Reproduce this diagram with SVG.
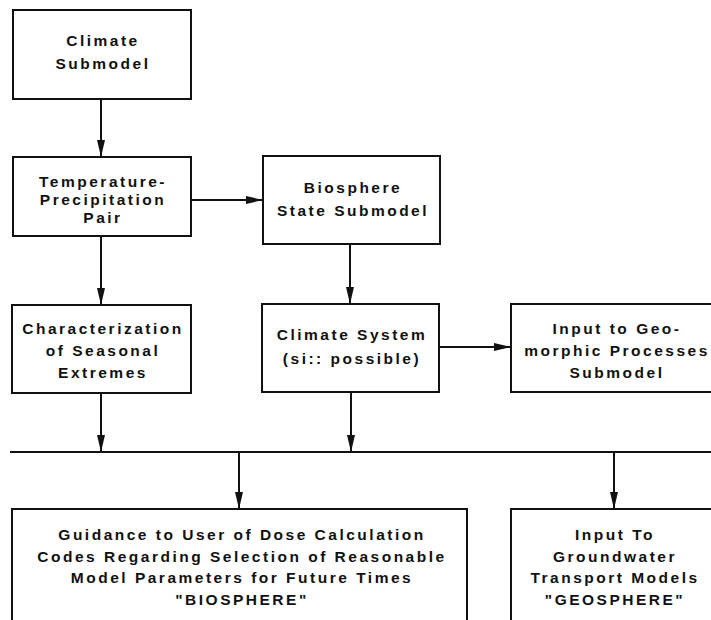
<svg xmlns="http://www.w3.org/2000/svg" width="711" height="620" viewBox="0 0 711 620">
  <style>
    .box { fill: #ffffff; stroke: #111111; stroke-width: 2; }
    .lbl { font-family: "Liberation Sans", Arial, Helvetica, sans-serif; font-weight: bold; font-size: 15.5px; letter-spacing: 2.5px; fill: #111111; text-anchor: middle; }
    .wire { fill: none; stroke: #111111; stroke-width: 2; }
    .arr { marker-end: url(#head); }
  </style>
  <defs>
    <marker id="head" markerUnits="userSpaceOnUse" markerWidth="18" markerHeight="8" refX="17" refY="4" orient="auto">
      <path d="M0,0 L17,4 L0,8 Z" fill="#111111"/>
    </marker>
  </defs>
  <rect width="711" height="620" fill="#ffffff"/>

  <!-- connectors -->
  <g id="connectors">
    <line class="wire arr" x1="101" y1="99" x2="101" y2="157"/>
    <line class="wire arr" x1="191" y1="200" x2="263" y2="200"/>
    <line class="wire arr" x1="101" y1="236" x2="101" y2="305"/>
    <line class="wire arr" x1="350" y1="244" x2="350" y2="304"/>
    <line class="wire arr" x1="439" y1="347" x2="511" y2="347"/>
    <line class="wire arr" x1="101" y1="393" x2="101" y2="452"/>
    <line class="wire arr" x1="351" y1="392" x2="351" y2="452"/>
    <line class="wire" x1="10" y1="452" x2="711" y2="452"/>
    <line class="wire arr" x1="239" y1="452" x2="239" y2="509"/>
    <line class="wire arr" x1="614" y1="452" x2="614" y2="509"/>
  </g>

  <g id="climate-submodel">
    <rect class="box" x="13" y="10" width="178" height="89"/>
    <text class="lbl" x="103" y="46">Climate</text>
    <text class="lbl" x="103" y="69">Submodel</text>
  </g>

  <g id="temperature-precipitation">
    <rect class="box" x="13" y="157" width="178" height="79"/>
    <text class="lbl" x="103" y="187">Temperature-</text>
    <text class="lbl" x="103" y="205">Precipitation</text>
    <text class="lbl" x="103" y="223">Pair</text>
  </g>

  <g id="biosphere-state">
    <rect class="box" x="263" y="156" width="177" height="88"/>
    <text class="lbl" x="353" y="193">Biosphere</text>
    <text class="lbl" x="353" y="216">State Submodel</text>
  </g>

  <g id="seasonal-extremes">
    <rect class="box" x="12" y="305" width="179" height="88"/>
    <text class="lbl" x="103" y="334">Characterization</text>
    <text class="lbl" x="103" y="356">of Seasonal</text>
    <text class="lbl" x="103" y="378">Extremes</text>
  </g>

  <g id="climate-system">
    <rect class="box" x="262" y="304" width="177" height="88"/>
    <text class="lbl" x="352" y="340">Climate System</text>
    <text class="lbl" x="352" y="364">(si:: possible)</text>
  </g>

  <g id="geomorphic-input">
    <rect class="box" x="511" y="304" width="220" height="88"/>
    <text class="lbl" x="617" y="334">Input to Geo-</text>
    <text class="lbl" x="617" y="356">morphic Processes</text>
    <text class="lbl" x="617" y="378">Submodel</text>
  </g>

  <g id="biosphere-guidance">
    <rect class="box" x="12" y="509" width="455" height="130"/>
    <text class="lbl" x="242" y="540">Guidance to User of Dose Calculation</text>
    <text class="lbl" x="242" y="562">Codes Regarding Selection of Reasonable</text>
    <text class="lbl" x="242" y="583">Model Parameters for Future Times</text>
    <text class="lbl" x="242" y="605">"BIOSPHERE"</text>
  </g>

  <g id="geosphere-input">
    <rect class="box" x="511" y="509" width="220" height="130"/>
    <text class="lbl" x="615" y="540">Input To</text>
    <text class="lbl" x="615" y="562">Groundwater</text>
    <text class="lbl" x="615" y="583">Transport Models</text>
    <text class="lbl" x="615" y="605">"GEOSPHERE"</text>
  </g>
</svg>
